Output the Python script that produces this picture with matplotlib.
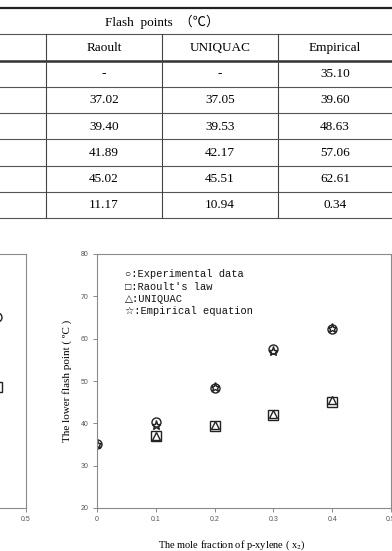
import numpy as np
import matplotlib.pyplot as plt

plt.rcParams['mathtext.fontset'] = 'stix'

# table / chart data
x2 = [0.0, 0.1, 0.2, 0.3, 0.4]
exp_fp = [35.1, 40.2, 48.3, 57.6, 62.4]
raoult_fp = [np.nan, 37.02, 39.40, 41.89, 45.02]
uniquac_fp = [np.nan, 37.05, 39.53, 42.17, 45.51]
empirical_fp = [35.10, 39.60, 48.63, 57.06, 62.61]
aad = [11.17, 10.94, 0.34]
methods = ['Raoult', 'UNIQUAC', 'Empirical']

# partly visible left panel
left_x = [0.45]
left_exp = [65.0]
left_raoult = [48.6]

xticks = [0, 0.1, 0.2, 0.3, 0.4, 0.5]
xtick_labels = ['0', '0.1', '0.2', '0.3', '0.4', '0.5']
yticks = [20, 30, 40, 50, 60, 70, 80]

legend_lines = ['○:Experimental data', '□:Raoult\'s law', '△:UNIQUAC', '☆:Empirical equation']

W, H = 392, 551
fig = plt.figure(figsize=(W / 100, H / 100), dpi=100)

# ---- table drawn in pixel coords ----
tab = fig.add_axes([0, 0, 1, 1])
tab.set_xlim(0, W)
tab.set_ylim(H, 0)
tab.axis('off')

serif = ['Liberation Serif', 'Noto Sans CJK JP', 'DejaVu Sans']
tab.axhline(8, color='#222222', lw=1.6)
tab.axhline(34, color='#555555', lw=0.8)
tab.axhline(61, color='#333333', lw=1.8)
for yl in [87, 113, 139, 166, 192, 218]:
    tab.axhline(yl, color='#555555', lw=0.8)
for xl in [46, 162, 278]:
    tab.plot([xl, xl], [34, 218], color='#444444', lw=0.8)

tab.text(162, 22, 'Flash  points  （℃）', ha='center', va='center', fontsize=9.5, family=serif)
col_x = [104, 220, 335]
for cx, m in zip(col_x, methods):
    tab.text(cx, 48, m, ha='center', va='center', fontsize=9.5, family=serif)

cols = [raoult_fp, uniquac_fp, empirical_fp]
row_y = [74, 100, 127, 153, 179]
for cx, vals in zip(col_x, cols):
    for ry, v in zip(row_y, vals):
        s = '-' if np.isnan(v) else f'{v:.2f}'
        tab.text(cx, ry, s, ha='center', va='center', fontsize=9.5, family=serif)
for cx, v in zip(col_x, aad):
    tab.text(cx, 205, f'{v:.2f}', ha='center', va='center', fontsize=9.5, family=serif)


# ---- charts ----
def style_axes(ax, xlabels, ylabels=True):
    for sp in ax.spines.values():
        sp.set_color('#8a8a8a')
        sp.set_linewidth(0.8)
    ax.set_xlim(0, 0.5)
    ax.set_ylim(20, 80)
    ax.set_xticks(xticks)
    ax.set_xticklabels(xlabels)
    ax.set_yticks(yticks)
    if not ylabels:
        ax.set_yticklabels([])
    ax.tick_params(direction='out', length=3, width=0.7, color='#8a8a8a',
                   labelsize=5, labelcolor='#555555', pad=3)
    for lab in ax.get_xticklabels() + ax.get_yticklabels():
        lab.set_family('Liberation Sans')


mk = dict(linestyle='none', fillstyle='none', markeredgecolor='#222222', markeredgewidth=1.0)

# left panel: only its right edge shows
axL = fig.add_axes([(26 - 294) / W, 43 / H, 294 / W, 254 / H])
style_axes(axL, ['', '', '', '', '', '0.5'], ylabels=False)
axL.plot(left_x, left_exp, marker='o', markersize=6.5, **mk)
axL.plot(left_x, left_raoult, marker='s', markersize=6.5, **mk)

ax = fig.add_axes([97 / W, 43 / H, 294 / W, 254 / H])
style_axes(ax, xtick_labels)
ax.plot(x2, raoult_fp, marker='s', markersize=6.5, **mk)
ax.plot(x2, uniquac_fp, marker='^', markersize=5.5, **mk)
ax.plot(x2, exp_fp, marker='o', markersize=6.5, **mk)
ax.plot(x2, empirical_fp, marker='*', markersize=6.5, **mk)

for i, line in enumerate(legend_lines):
    ax.text(0.095, 0.921 - i * 0.049, line, transform=ax.transAxes, va='center', ha='left',
            fontsize=7.5, family=['Liberation Mono', 'DejaVu Sans'], color='#111111')

ax.set_xlabel(r'The mole fraction of p-xylene ( x$_2$)', fontsize=7.5, family='Liberation Serif')
ax.xaxis.set_label_coords(0.46, -0.122)
ax.set_ylabel('The lower flash point ( ºC )', fontsize=8, family='Liberation Serif')
ax.yaxis.set_label_coords(-0.085, 0.5)

fig.savefig('out.png', dpi=100)
